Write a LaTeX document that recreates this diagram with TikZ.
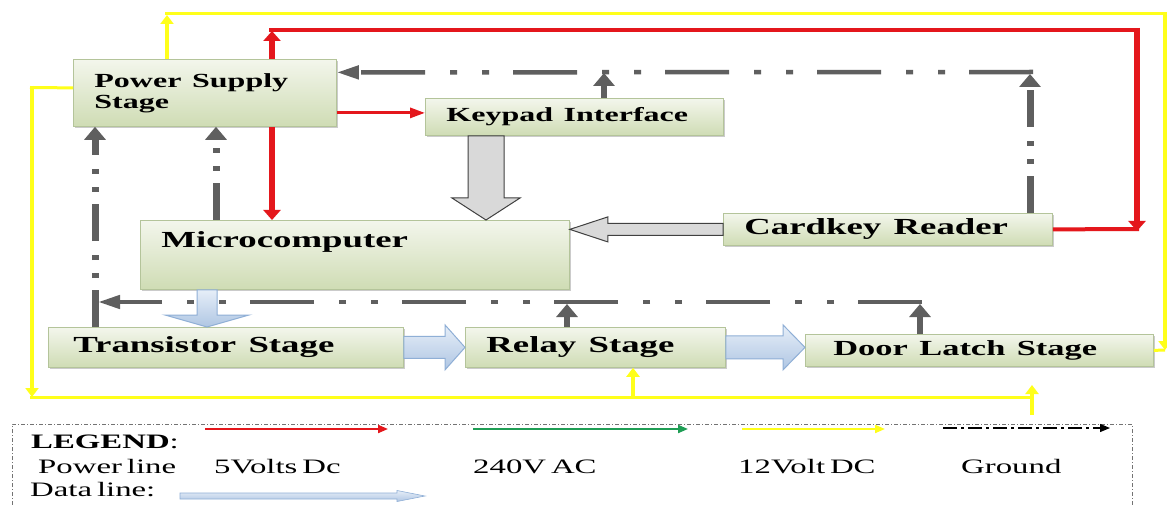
\documentclass[tikz,border=0pt]{standalone}
\usepackage{fontspec}
\setmainfont[WordSpace=0.6]{Liberation Serif}
\usepackage{graphicx}
\usetikzlibrary{arrows.meta,calc,shadows}

\definecolor{boxtop}{HTML}{F3F6EC}
\definecolor{boxbot}{HTML}{CFDCB4}
\definecolor{boxline}{HTML}{B4C49A}
\definecolor{gndgray}{HTML}{5F5F5F}
\definecolor{pwrred}{HTML}{E4171C}
\definecolor{pwryel}{HTML}{FFFF1A}
\definecolor{acgreen}{HTML}{1F9E55}
\definecolor{datatop}{HTML}{E6EEF8}
\definecolor{databot}{HTML}{AFC6E3}
\definecolor{dataline}{HTML}{8FAFD6}

\newcommand{\wide}[1]{\scalebox{1.6}[1]{#1}}
% fat arrow: style, from, to, shaft half width, head half width, head length
\newcommand{\dataarrow}[6][]{%
  \coordinate (da-a) at (#2);
  \coordinate (da-b) at (#3);
  \coordinate (da-h) at ($(da-b)!#6!(da-a)$);
  \path[#1] ($(da-a)!#4!90:(da-b)$) -- ($(da-h)!#4!90:(da-b)$) -- ($(da-h)!#5!90:(da-b)$) -- (da-b)
    -- ($(da-h)!#5!-90:(da-b)$) -- ($(da-h)!#4!-90:(da-b)$) -- ($(da-a)!#4!-90:(da-b)$) -- cycle;
}

\tikzset{
  stagebox/.style={draw=boxline, line width=0.8pt, top color=boxtop, bottom color=boxbot,
    drop shadow={shadow xshift=2pt, shadow yshift=-2pt, fill=black!45, opacity=0.45},
    anchor=north west, inner ysep=0pt, inner xsep=21pt, align=left,
    font=\bfseries\fontsize{23}{24}\selectfont},
  gndsolid/.style={draw=gndgray, line width=5.5pt, >={Triangle[length=13pt,width=21pt]}},
  gndv/.style={draw=gndgray, line width=7pt, dash pattern=on 37pt off 12pt on 5pt off 13pt on 5pt off 14pt,
    >={Triangle[length=13pt,width=21pt]}},
  gndh/.style={draw=gndgray, line width=4.5pt, dash pattern=on 64pt off 24pt on 7pt off 25pt on 7pt off 25pt,
    >={Triangle[length=22pt,width=13pt]}},
  pwr5h/.style={draw=pwrred, line width=4pt, >={Triangle[length=15pt,width=10pt]}},
  pwr5v/.style={draw=pwrred, line width=6pt, >={Triangle[length=10pt,width=17pt]}},
  pwr12h/.style={draw=pwryel, line width=3pt, >={Triangle[length=12pt,width=9pt]}},
  pwr12v/.style={draw=pwryel, line width=4pt, >={Triangle[length=9pt,width=13pt]}},
  datafat/.style={draw=dataline, line width=1pt, top color=datatop, bottom color=databot},
  keyfat/.style={draw=black!75, line width=1pt, fill=black!15},
  legtext/.style={anchor=base west, inner sep=0pt, font=\fontsize{20.5}{22}\selectfont},
  legline/.style={line width=2pt, -{Triangle[length=10pt,width=8pt]}},
  legbox/.style={draw=black!55, line width=0.8pt, dash pattern=on 4pt off 2pt on 1pt off 2pt}
}

\begin{document}
\begin{tikzpicture}[x=1pt,y=-1pt]
\fill[white] (0,0) rectangle (1167,505);
\useasboundingbox (0,0) rectangle (1167,505);

\node[stagebox, text width=221pt, minimum height=67pt, font=\bfseries\fontsize{20}{21}\selectfont] (ps) at (73,59) {\wide{Power Supply}\\\wide{Stage}};
\node[stagebox, text width=256pt, minimum height=37pt, font=\bfseries\fontsize{20}{21}\selectfont] (keypad) at (425,98) {\wide{Keypad Interface}};
\node[stagebox, text width=387pt, minimum height=69pt, text height=17pt, text depth=32pt] (micro) at (140,220) {\wide{Microcomputer}};
\node[stagebox, text width=287pt, minimum height=32pt] (card) at (723,213) {\wide{Cardkey Reader}};
\node[stagebox, inner xsep=25pt, text width=305pt, minimum height=40pt] (trans) at (48,327) {\wide{Transistor Stage}};
\node[stagebox, text width=218pt, minimum height=40pt] (relay) at (465,327) {\wide{Relay Stage}};
\node[stagebox, inner xsep=28pt, text width=292pt, minimum height=32pt, font=\bfseries\fontsize{21.5}{22}\selectfont] (door) at (805,334) {\wide{Door Latch Stage}};

% 12V lines
\draw[pwr12v,->] ([xshift=94pt]ps.north west) -- (167,15);
\draw[pwr12h] (165,14) -- (1167,14);
\draw[pwr12v,->] (1165,13) -- (1165,350);
\draw[pwr12h] (1165,350) -- (door.east);
\draw[pwr12h] ([yshift=5pt]ps.west) -- (30,87.5);
\draw[pwr12v,->] (32,86) -- (32,397);
\draw[pwr12h] (30,397) -- (1032,397);
\draw[pwr12v,->] (633,397) -- ([xshift=168pt]relay.south west);
\draw[pwr12v,->] (1032,415) -- (1032,385);

% 5V lines
\draw[pwr5v,->] ([xshift=199pt]ps.north west) -- (272,31);
\draw[pwr5h] (269,30) -- (1140,30);
\draw[pwr5v,->] (1137,28) -- (1137,231);
\draw[pwr5h] (card.east) -- (1139,229);
\draw[pwr5v,->] ([xshift=199pt]ps.south west) -- ([xshift=132pt]micro.north west);
\draw[pwr5h,->,line width=3pt] ([yshift=-20pt]ps.east) coordinate (r1) -- (r1 -| keypad.west);

% ground
\draw[gndv,->] ([xshift=307pt]card.north west) -- (1030,74);
\draw[gndh,->] (1033,72) -- ([yshift=20.5pt]ps.east);
\draw[gndsolid,->] ([xshift=179pt]keypad.north west) -- (604,73);
\draw[gndv,->] ([xshift=76pt]micro.north west) -- ([xshift=143pt]ps.south west);
\draw[gndv,->] ([xshift=47pt]trans.north west) -- ([xshift=22pt]ps.south west);
\draw[gndsolid,->] ([xshift=115pt]door.north west) -- (920,304);
\draw[gndh,->] (922,302) -- (98,302);
\draw[gndsolid,->] ([xshift=102pt]relay.north west) -- (567,304);

% data
\coordinate (k1) at ([xshift=61pt]keypad.south west);
\dataarrow[keyfat]{k1}{k1 |- micro.north}{18pt}{34pt}{22pt}
\dataarrow[keyfat]{card.west}{card.west -| micro.east}{6pt}{12.5pt}{38pt}
\coordinate (m1) at ([xshift=67pt]micro.south west);
\dataarrow[datafat]{m1}{m1 |- trans.north}{10pt}{42pt}{12pt}
\dataarrow[datafat]{trans.east}{trans.east -| relay.west}{11pt}{22.5pt}{20pt}
\dataarrow[datafat]{relay.east}{relay.east -| door.west}{11.5pt}{22.5pt}{22pt}

% legend
\draw[legbox] (12,505) -- (12,424) -- (1132,424) -- (1132,505);
\node[legtext] (leg) at (31,448) {\wide{\textbf{LEGEND}:}};
\node[legtext] (legpwr) at (38,473) {\wide{Power line}};
\node[legtext] (leg5v) at (214,473) {\wide{5Volts Dc}};
\node[legtext] (legac) at (473,473) {\wide{240V AC}};
\node[legtext] (leg12v) at (738,473) {\wide{12Volt DC}};
\node[legtext] (leggnd) at (961,473) {\wide{Ground}};
\node[legtext] (legdata) at (30,496) {\wide{Data line:}};
\draw[legline, pwrred] (205,429) -- (388,429);
\draw[legline, acgreen] (473,429) -- (688,429);
\draw[legline, pwryel] (742,429) -- (885,429);
\draw[legline, black, line width=1.3pt, dash pattern=on 14pt off 4pt on 3pt off 4pt] (943,428) -- (1110,428);
\dataarrow[datafat, line width=0.6pt]{180,496}{425,496}{3pt}{5.5pt}{28pt}
\end{tikzpicture}
\end{document}
